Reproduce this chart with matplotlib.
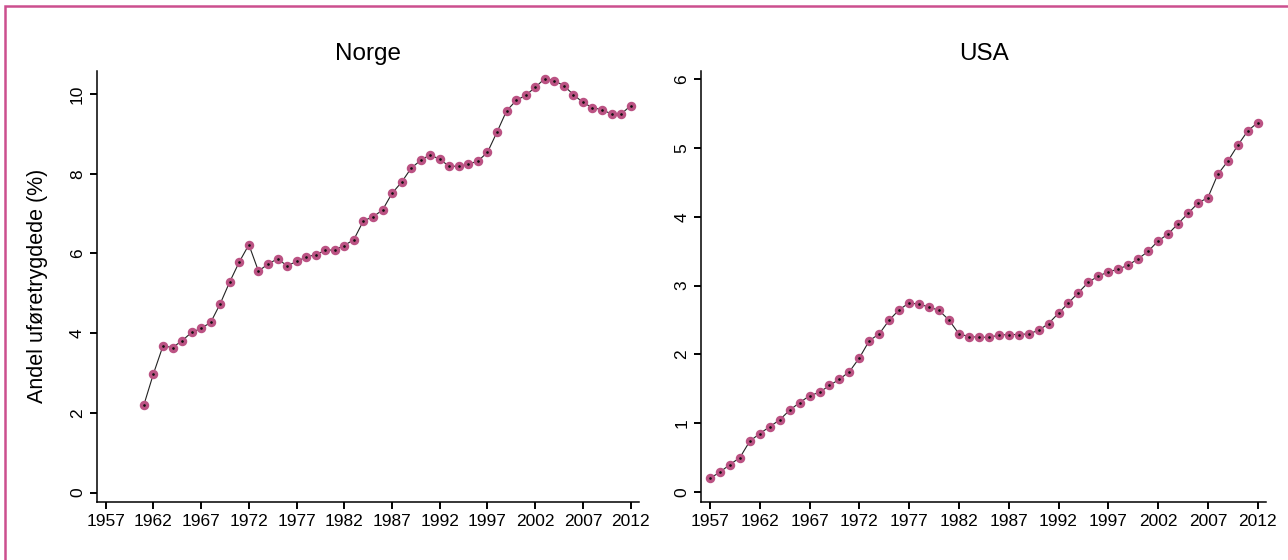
"""Andel uføretrygdede, Norge og USA."""
import matplotlib
matplotlib.use('Agg')
import matplotlib.pyplot as plt
from matplotlib.patches import Rectangle

# data
norge_years = list(range(1961, 2013))
norge_values = [2.20, 2.98, 3.68, 3.64, 3.81, 4.02, 4.12, 4.27, 4.74, 5.29,
                5.79, 6.22, 5.56, 5.73, 5.87, 5.69, 5.80, 5.91, 5.97, 6.08,
                6.09, 6.20, 6.35, 6.82, 6.92, 7.09, 7.51, 7.79, 8.14, 8.34,
                8.48, 8.36, 8.19, 8.19, 8.24, 8.32, 8.54, 9.05, 9.58, 9.84,
                9.97, 10.17, 10.39, 10.34, 10.21, 9.99, 9.79, 9.66, 9.61,
                9.50, 9.50, 9.71]

usa_years = list(range(1957, 2013))
usa_values = [0.20, 0.29, 0.40, 0.50, 0.74, 0.85, 0.95, 1.05, 1.19, 1.30,
              1.40, 1.45, 1.55, 1.64, 1.75, 1.95, 2.20, 2.30, 2.50, 2.65,
              2.75, 2.73, 2.69, 2.64, 2.50, 2.30, 2.26, 2.25, 2.25, 2.28,
              2.29, 2.29, 2.30, 2.35, 2.45, 2.60, 2.75, 2.90, 3.05, 3.14,
              3.20, 3.24, 3.30, 3.39, 3.50, 3.65, 3.75, 3.90, 4.05, 4.20,
              4.28, 4.62, 4.81, 5.04, 5.25, 5.37]

x_ticks = list(range(1957, 2013, 5))
norge_yticks = [0, 2, 4, 6, 8, 10]
usa_yticks = [0, 1, 2, 3, 4, 5, 6]

plt.rcParams['font.family'] = ['Liberation Sans', 'DejaVu Sans']

MARKER = '#bb5283'
FRAME = '#cc4f8e'

fig = plt.figure(figsize=(12.88, 5.6), dpi=100)

# pink frame round the graph (cut off at right and bottom)
fig.patches.append(Rectangle((4.5 / 1288, -0.05), 1.2, 1 - 5.5 / 560 + 0.05,
                             transform=fig.transFigure, fill=False,
                             edgecolor=FRAME, linewidth=1.8))

ax_no = fig.add_axes([0.0751, 0.1041, 0.4210, 0.7691])
ax_us = fig.add_axes([0.5445, 0.1041, 0.4384, 0.7691])


def draw_panel(ax, years, values, title, yticks, ylim, xlim):
    ax.plot(years, values, color='#222222', linewidth=0.8, zorder=2)
    ax.plot(years, values, linestyle='none', marker='o', markersize=5.8,
            markerfacecolor=MARKER, markeredgecolor=MARKER, zorder=3)
    ax.plot(years, values, linestyle='none', marker='o', markersize=0.9,
            color='#111111', zorder=4)
    ax.set_title(title, fontsize=17.5, pad=8)
    ax.set_xticks(x_ticks)
    ax.set_yticks(yticks)
    ax.set_xlim(*xlim)
    ax.set_ylim(*ylim)
    for side in ['top', 'right']:
        ax.spines[side].set_visible(False)
    for side in ['left', 'bottom']:
        ax.spines[side].set_linewidth(1.1)
    ax.tick_params(axis='both', direction='out', length=5, width=1.4,
                   labelsize=12.5, colors='black')
    ax.tick_params(axis='y', labelrotation=90)
    for lab in ax.get_yticklabels():
        lab.set_verticalalignment('center')


draw_panel(ax_no, norge_years, norge_values, 'Norge', norge_yticks,
           (-0.23, 10.58), (1956.06, 2012.87))
draw_panel(ax_us, usa_years, usa_values, 'USA', usa_yticks,
           (-0.14, 6.12), (1956.13, 2012.83))

ax_no.set_ylabel('Andel uføretrygdede (%)', fontsize=15.5, labelpad=16)

fig.savefig('out.png', dpi=100)
